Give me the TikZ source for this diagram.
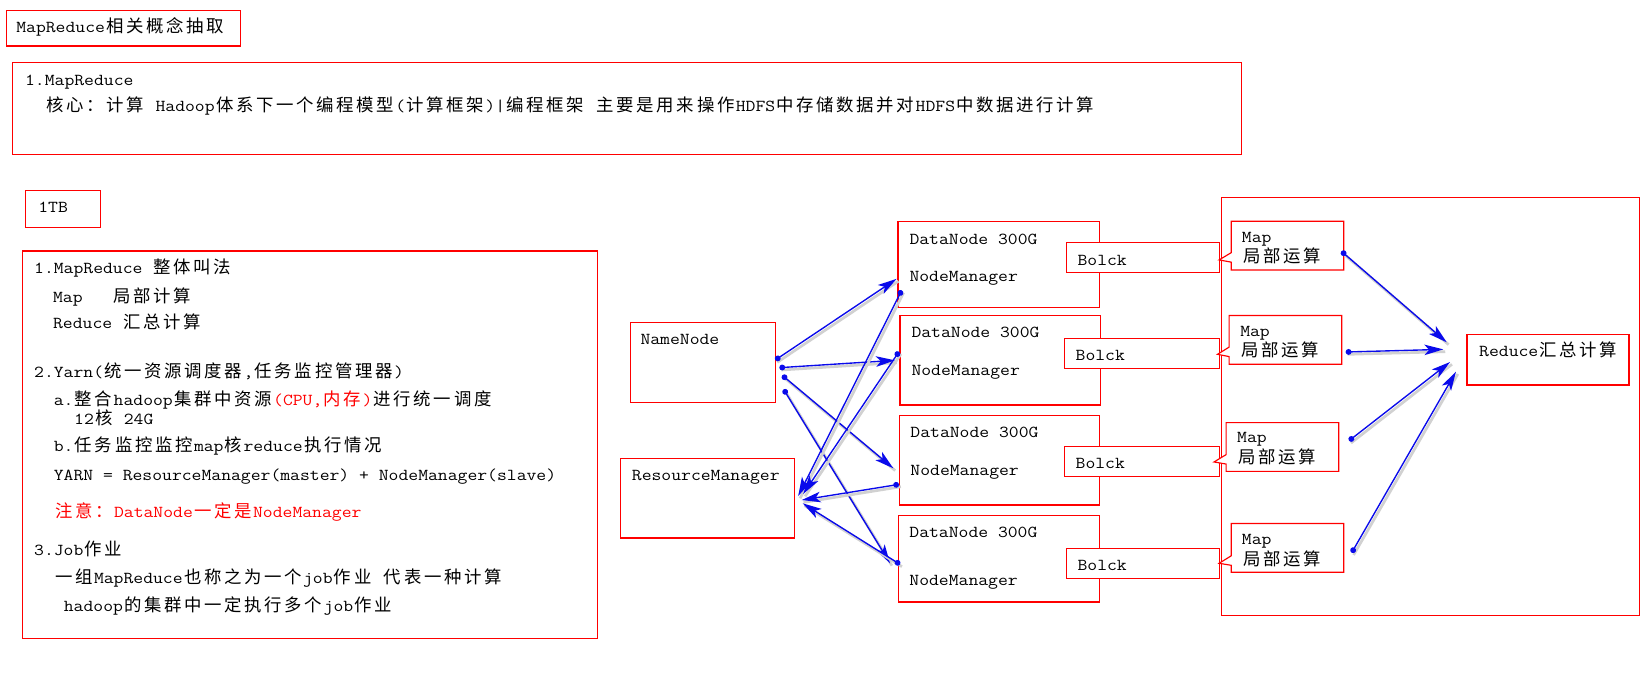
\documentclass[tikz,border=0pt]{standalone}
\usepackage{fontspec}
\setmainfont{Latin Modern Mono}[FakeStretch=1.143]
\newfontfamily\cjk{Noto Sans CJK SC}[Scale=1.04]
\usetikzlibrary{fit,arrows.meta,shapes.callouts}
\definecolor{linkblue}{RGB}{10,10,235}
\makeatletter
\newXeTeXintercharclass\cjkcls
\count@="4E00
\loop
  \XeTeXcharclass\count@=\cjkcls
  \advance\count@\@ne
\ifnum\count@<"A000 \repeat
\XeTeXcharclass"FF1A=\cjkcls
\makeatother
\newdimen\cjkpad \cjkpad=1.27pt
\XeTeXinterchartoks 0 \cjkcls = {\begingroup\cjk\kern\cjkpad}
\XeTeXinterchartoks 4095 \cjkcls = {\begingroup\cjk\kern\cjkpad}
\XeTeXinterchartoks \cjkcls 0 = {\kern\cjkpad\endgroup}
\XeTeXinterchartoks \cjkcls 4095 = {\kern\cjkpad\endgroup}
\XeTeXinterchartoks \cjkcls \cjkcls = {\kern\cjkpad\kern\cjkpad}
\begin{document}
\XeTeXinterchartokenstate=1
\begin{tikzpicture}[x=1pt,y=-1pt,
  box/.style={draw=red, line width=1.1pt, inner sep=0pt},
  wbox/.style={box, fill=white},
  txt/.style={inner sep=0pt, anchor=base west, font=\fontsize{15.9}{18}\selectfont},
  conn/.style={draw=linkblue, line width=1.3pt,
    {Circle[length=5.5pt]}-{Stealth[length=18pt,width=10pt,inset=4.5pt]},
    preaction={draw=black!18, line width=2.6pt, -, transform canvas={shift={(1.8pt,-2.2pt)}}}},
  mapc/.style={rectangle callout, draw=red, line width=1.1pt, inner sep=0pt,
    callout pointer width=9pt, fill=white, minimum width=107pt, minimum height=46.3pt}
]
\useasboundingbox (0,0) rectangle (1568,656.6);

% ---------- title ----------
\node[box, fit={(5.8,9.8) (228.4,43.7)}] (title) {};
\node[txt] (titletxt) at (15.3,31) {MapReduce相关概念抽取};

% ---------- box 2 ----------
\node[box, fit={(12,59.2) (1180,146.7)}] (intro) {};
\node[txt] (intro1) at (23.7,81) {1.MapReduce};
\node[txt] (intro2) at (42.9,106.3) {核心：计算 Hadoop体系下一个编程模型(计算框架)|编程框架 主要是用来操作HDFS中存储数据并对HDFS中数据进行计算};

% ---------- 1TB ----------
\node[box, fit={(24,181.2) (95.6,216)}] (tb) {};
\node[txt] (tbtxt) at (36.2,202) {1TB};

% ---------- left notes ----------
\node[box, fit={(21.1,238.5) (568,607)}] (notes) {};
\node[txt] (l1) at (32.3,260) {1.MapReduce 整体叫法};
\node[txt] (l2) at (50.3,287) {Map\ \ \ 局部计算};
\node[txt] (l3) at (50.3,312.5) {Reduce 汇总计算};
\node[txt] (l4) at (32.3,358.5) {2.Yarn(统一资源调度器,任务监控管理器)};
\node[txt] (l5) at (51,385.8) {a.整合hadoop集群中资源\textcolor{red}{(CPU,内存)}进行统一调度};
\node[txt] (l6) at (70.3,403) {12核 24G};
\node[txt] (l7) at (51,429.5) {b.任务监控监控map核reduce执行情况};
\node[txt] (l8) at (51,456.4) {YARN = ResourceManager(master) + NodeManager(slave)};
\node[txt, text=red] (l9) at (51,492) {注意：DataNode一定是NodeManager};
\node[txt] (l10) at (32.3,528) {3.Job作业};
\node[txt] (l11) at (51,554.6) {一组MapReduce也称之为一个job作业 代表一种计算};
\node[txt] (l12) at (60.5,581.5) {hadoop的集群中一定执行多个job作业};

% ---------- NameNode / ResourceManager ----------
\node[box, fit={(599,306.3) (736.8,382.3)}] (nn) {};
\node[txt] (nntxt) at (608.5,327.5) {NameNode};
\node[box, fit={(589.5,435.9) (754.8,511.3)}] (rm) {};
\node[txt] (rmtxt) at (600.3,457) {ResourceManager};

% ---------- DataNodes ----------
\node[box, fit={(853.4,210.7) (1044.5,292)}] (dn1) {};
\node[txt] (dn1a) at (864.1,232.1) {DataNode 300G};
\node[txt] (dn1b) at (864.1,267.9) {NodeManager};
\node[box, fit={(855.3,300) (1045.6,384.9)}] (dn2) {};
\node[txt] (dn2a) at (866,321.1) {DataNode 300G};
\node[txt] (dn2b) at (866,357.2) {NodeManager};
\node[box, fit={(854.6,394.7) (1044.7,479.9)}] (dn3) {};
\node[txt] (dn3a) at (865,415.9) {DataNode 300G};
\node[txt] (dn3b) at (865,452.3) {NodeManager};
\node[box, fit={(853.7,489.7) (1044.5,572)}] (dn4) {};
\node[txt] (dn4a) at (864,510.8) {DataNode 300G};
\node[txt] (dn4b) at (864,556) {NodeManager};

% ---------- Blocks ----------
\node[wbox, fit={(1013.3,230.3) (1158.7,258.8)}] (b1) {};
\node[txt] (b1t) at (1023.8,252.1) {Bolck};
\node[wbox, fit={(1011.4,321.5) (1158.7,350)}] (b2) {};
\node[txt] (b2t) at (1022,342.7) {Bolck};
\node[wbox, fit={(1011.4,424.1) (1158.7,452.7)}] (b3) {};
\node[txt] (b3t) at (1022,445.6) {Bolck};
\node[wbox, fit={(1013.3,521.1) (1158.7,549.6)}] (b4) {};
\node[txt] (b4t) at (1023.8,542.5) {Bolck};

% ---------- right frame ----------
\node[box, fit={(1160.6,187.5) (1558,585)}] (frame) {};

% ---------- Map callouts ----------
\coordinate (mt1) at (1158.5,247);
\coordinate (mt2) at (1157,336.7);
\coordinate (mt3) at (1153.7,439);
\coordinate (mt4) at (1158.5,535.3);
\node[mapc, callout absolute pointer={(mt1)}] (m1) at (1223.5,233.45) {};
\node[mapc, callout absolute pointer={(mt2)}] (m2) at (1221.5,323) {};
\node[mapc, callout absolute pointer={(mt3)}] (m3) at (1218.7,424.8) {};
\node[mapc, callout absolute pointer={(mt4)}] (m4) at (1223.5,520.6) {};
\node[txt] (m1a) at (1180,230) {Map};
\node[txt] (m1b) at (1180,249.5) {局部运算};
\node[txt] (m2a) at (1178.4,319.5) {Map};
\node[txt] (m2b) at (1178.4,339) {局部运算};
\node[txt] (m3a) at (1175.5,420.8) {Map};
\node[txt] (m3b) at (1175.5,440.6) {局部运算};
\node[txt] (m4a) at (1180,517) {Map};
\node[txt] (m4b) at (1180,537) {局部运算};

% ---------- Reduce ----------
\node[box, fit={(1394,317.7) (1548,365.9)}] (red) {};
\node[txt] (redt) at (1405.5,339.2) {Reduce汇总计算};

% ---------- connector end points ----------
\coordinate (ms1) at (1274.7,238.8); \coordinate (re1) at (1374.8,325.3);
\coordinate (ms2) at (1278.8,334.5); \coordinate (re2) at (1371.6,332);
\coordinate (ms3) at (1282,418.8);   \coordinate (re3) at (1378,344);
\coordinate (ms4) at (1284.5,525.2); \coordinate (re4) at (1383.6,353.2);

\coordinate (ns1) at (736.8,342.1); \coordinate (de1) at (852,265);
\coordinate (ns2) at (740.6,349.4); \coordinate (de2) at (850.5,342.4);
\coordinate (ns3) at (743.4,356.7); \coordinate (de3) at (848.9,445);
\coordinate (ns4) at (744.7,370);   \coordinate (de4) at (845.8,535.3);

\coordinate (ds1) at (856.9,275.9); \coordinate (rt1) at (758.5,471.4);
\coordinate (ds2) at (854.3,334.2); \coordinate (rt2) at (763.3,469.4);
\coordinate (ds3) at (854.3,460.3); \coordinate (rt3) at (761.8,475.2);
\coordinate (ds4) at (855.3,536.3); \coordinate (rt4) at (762.8,478.3);

% ---------- connectors ----------
\draw[conn] (ns1) -- (de1);
\draw[conn] (ns2) -- (de2);
\draw[conn] (ns3) -- (de3);
\draw[conn] (ns4) -- (de4);
\draw[conn] (ds1) -- (rt1);
\draw[conn] (ds2) -- (rt2);
\draw[conn] (ds3) -- (rt3);
\draw[conn] (ds4) -- (rt4);
\draw[conn] (ms1) -- (re1);
\draw[conn] (ms2) -- (re2);
\draw[conn] (ms3) -- (re3);
\draw[conn] (ms4) -- (re4);
\end{tikzpicture}
\end{document}
